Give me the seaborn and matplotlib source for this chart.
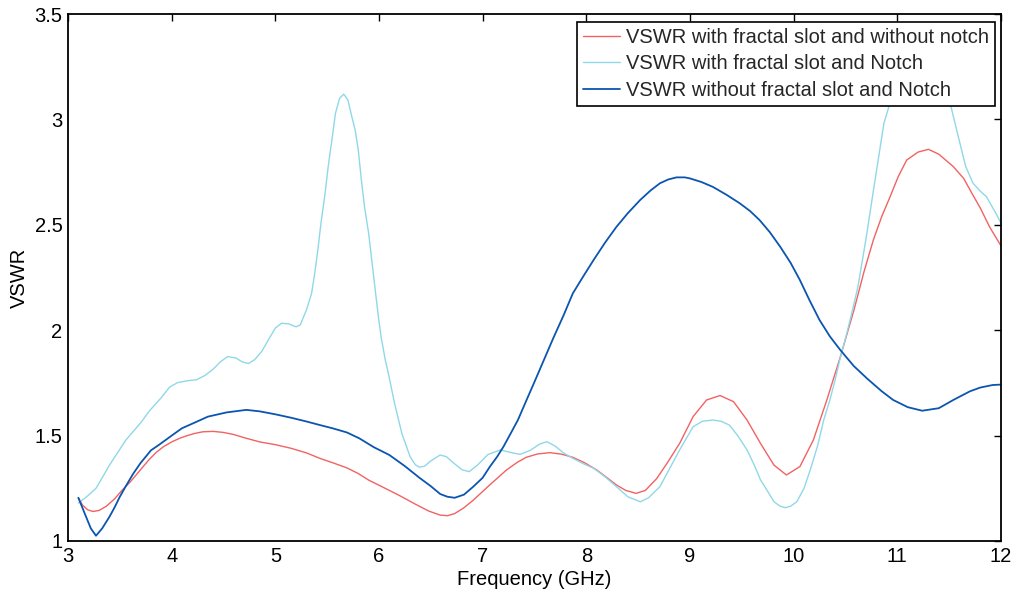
import numpy as np
import pandas as pd
import matplotlib
matplotlib.use("Agg")
import matplotlib.pyplot as plt
import seaborn as sns

# ---- data ----
red_x = [3.10, 3.14, 3.19, 3.24, 3.30, 3.37, 3.45, 3.52, 3.60, 3.66, 3.72, 3.78, 3.85, 3.92, 4.00,
         4.08, 4.15, 4.22, 4.30, 4.40, 4.50, 4.60, 4.70, 4.85, 5.00, 5.15, 5.30, 5.43, 5.56, 5.69,
         5.80, 5.90, 6.01, 6.10, 6.20, 6.35, 6.48, 6.59, 6.66, 6.73, 6.82, 6.91, 7.00, 7.10, 7.23,
         7.33, 7.42, 7.53, 7.65, 7.76, 7.87, 7.98, 8.10, 8.20, 8.29, 8.38, 8.48, 8.57, 8.68, 8.78,
         8.90, 9.03, 9.16, 9.29, 9.42, 9.55, 9.68, 9.81, 9.93, 10.06, 10.19, 10.32, 10.45, 10.58,
         10.68, 10.77, 10.85, 10.93, 11.01, 11.09, 11.20, 11.30, 11.40, 11.54, 11.64, 11.73, 11.80,
         11.89, 12.00]
red_y = [1.205, 1.17, 1.148, 1.14, 1.145, 1.165, 1.20, 1.24, 1.28, 1.315, 1.35, 1.385, 1.42, 1.447, 1.47,
         1.488, 1.50, 1.51, 1.518, 1.52, 1.515, 1.505, 1.49, 1.47, 1.457, 1.44, 1.418, 1.392, 1.37, 1.347,
         1.32, 1.289, 1.262, 1.24, 1.215, 1.175, 1.142, 1.123, 1.12, 1.13, 1.158, 1.194, 1.235, 1.28, 1.337,
         1.372, 1.397, 1.413, 1.419, 1.412, 1.397, 1.372, 1.337, 1.30, 1.266, 1.24, 1.226, 1.24, 1.297, 1.37,
         1.463, 1.59, 1.669, 1.69, 1.661, 1.574, 1.463, 1.36, 1.313, 1.353, 1.479, 1.669, 1.873, 2.093,
         2.28, 2.43, 2.54, 2.633, 2.73, 2.807, 2.845, 2.858, 2.835, 2.776, 2.72, 2.64, 2.58,
         2.49, 2.40]

cyan_x = [3.10, 3.18, 3.27, 3.33, 3.40, 3.48, 3.56, 3.63, 3.70, 3.79, 3.90, 3.98, 4.06, 4.15, 4.24,
          4.32, 4.40, 4.47, 4.54, 4.62, 4.68, 4.74, 4.80, 4.87, 4.94, 5.00, 5.06, 5.13, 5.20, 5.24,
          5.30, 5.35, 5.38, 5.41, 5.44, 5.48, 5.51, 5.55, 5.58, 5.62, 5.66, 5.70, 5.73, 5.77, 5.80,
          5.83, 5.86, 5.90, 5.93, 5.96, 5.99, 6.02, 6.06, 6.09, 6.15, 6.22, 6.30, 6.35, 6.39, 6.44,
          6.50, 6.59, 6.65, 6.72, 6.80, 6.87, 6.95, 7.05, 7.17, 7.27, 7.36, 7.46, 7.55, 7.62, 7.70,
          7.78, 7.87, 7.97, 8.07, 8.18, 8.29, 8.40, 8.52, 8.60, 8.71, 8.80, 8.90, 9.03, 9.12, 9.22,
          9.30, 9.38, 9.46, 9.55, 9.62, 9.68, 9.75, 9.81, 9.87, 9.92, 9.97, 10.03, 10.10, 10.16,
          10.23, 10.29, 10.35, 10.40, 10.45, 10.51, 10.56, 10.62, 10.70, 10.77, 10.87, 10.93, 11.02,
          11.12, 11.22, 11.32, 11.42, 11.51, 11.58, 11.66, 11.73, 11.80, 11.86, 11.95, 12.00]
cyan_y = [1.18, 1.21, 1.25, 1.30, 1.36, 1.42, 1.48, 1.52, 1.56, 1.62, 1.68, 1.73, 1.752, 1.76, 1.765,
          1.785, 1.815, 1.85, 1.875, 1.868, 1.85, 1.842, 1.86, 1.90, 1.96, 2.01, 2.033, 2.03, 2.016, 2.025,
          2.096, 2.175, 2.27, 2.38, 2.507, 2.65, 2.776, 2.918, 3.029, 3.10, 3.12, 3.092, 3.029, 2.95, 2.855,
          2.712, 2.586, 2.46, 2.333, 2.206, 2.08, 1.969, 1.86, 1.796, 1.653, 1.511, 1.40, 1.362, 1.35, 1.355,
          1.38, 1.408, 1.40, 1.37, 1.338, 1.329, 1.36, 1.41, 1.432, 1.42, 1.411, 1.43, 1.46, 1.471, 1.45,
          1.418, 1.392, 1.367, 1.345, 1.305, 1.258, 1.21, 1.186, 1.205, 1.258, 1.34, 1.432, 1.542, 1.568, 1.574,
          1.568, 1.55, 1.50, 1.432, 1.36, 1.29, 1.235, 1.186, 1.165, 1.158, 1.165, 1.186, 1.25, 1.337,
          1.45, 1.574, 1.67, 1.764, 1.87, 1.98, 2.08, 2.206, 2.44, 2.665, 2.98, 3.08, 3.22,
          3.33, 3.38, 3.36, 3.25, 3.076, 2.934, 2.776, 2.697, 2.66, 2.633, 2.555, 2.508]

blue_x = [3.10, 3.17, 3.22, 3.27, 3.33, 3.40, 3.45, 3.50, 3.56, 3.63, 3.70, 3.80, 3.88, 4.00, 4.10,
          4.21, 4.35, 4.53, 4.72, 4.85, 5.00, 5.15, 5.30, 5.43, 5.55, 5.69, 5.81, 5.95, 6.10, 6.25,
          6.39, 6.50, 6.59, 6.66, 6.73, 6.82, 6.91, 7.00, 7.07, 7.14, 7.20, 7.27, 7.34, 7.42, 7.50,
          7.59, 7.68, 7.78, 7.87, 7.97, 8.07, 8.18, 8.29, 8.40, 8.52, 8.62, 8.71, 8.79, 8.87, 8.95,
          9.00, 9.11, 9.22, 9.35, 9.48, 9.58, 9.67, 9.77, 9.87, 9.97, 10.06, 10.15, 10.25, 10.35,
          10.45, 10.58, 10.71, 10.85, 10.96, 11.10, 11.24, 11.40, 11.54, 11.70, 11.80, 11.92, 12.00]
blue_y = [1.205, 1.12, 1.06, 1.025, 1.06, 1.115, 1.16, 1.21, 1.262, 1.32, 1.37, 1.43, 1.457, 1.50, 1.535,
          1.559, 1.59, 1.61, 1.622, 1.615, 1.601, 1.585, 1.567, 1.55, 1.535, 1.515, 1.487, 1.445, 1.408, 1.355,
          1.30, 1.26, 1.223, 1.21, 1.205, 1.22, 1.258, 1.30, 1.353, 1.40, 1.447, 1.51, 1.574, 1.665, 1.755,
          1.858, 1.961, 2.07, 2.175, 2.255, 2.333, 2.415, 2.49, 2.555, 2.618, 2.663, 2.697, 2.715, 2.725, 2.725,
          2.72, 2.703, 2.68, 2.643, 2.602, 2.565, 2.523, 2.465, 2.396, 2.32, 2.238, 2.145, 2.048, 1.97,
          1.906, 1.83, 1.77, 1.71, 1.669, 1.635, 1.618, 1.63, 1.669, 1.71, 1.728, 1.74, 1.742]

labels = ["VSWR with fractal slot and without notch",
          "VSWR with fractal slot and Notch",
          "VSWR without fractal slot and Notch"]
colors = ["#F26262", "#8FD8E8", "#0B55B0"]
widths = [1.0, 1.0, 1.3]

x_ticks = [3, 4, 5, 6, 7, 8, 9, 10, 11, 12]
y_ticks = [1, 1.5, 2, 2.5, 3, 3.5]
y_tick_labels = ["1", "1.5", "2", "2.5", "3", "3.5"]

# ---- plotting ----
sns.set_theme(style="white")
plt.rcParams["font.family"] = ["Liberation Sans", "DejaVu Sans"]

fig = plt.figure(figsize=(10.16, 6.01), dpi=100)
ax = fig.add_axes([68 / 1016, 60 / 601, 933 / 1016, 527 / 601])

series = [(red_x, red_y), (cyan_x, cyan_y), (blue_x, blue_y)]
for (xs, ys), lab, col, lw in zip(series, labels, colors, widths):
    df = pd.DataFrame({"Frequency": xs, "VSWR": ys})
    sns.lineplot(data=df, x="Frequency", y="VSWR", ax=ax, color=col, linewidth=lw,
                 label=lab, sort=False, estimator=None)

ax.set_xlim(3, 12)
ax.set_ylim(1, 3.5)
ax.set_xticks(x_ticks)
ax.set_xticklabels([str(t) for t in x_ticks])
ax.set_yticks(y_ticks)
ax.set_yticklabels(y_tick_labels)
ax.tick_params(direction="in", length=5, width=1, top=True, right=True,
               labelsize=14.5, colors="black", pad=4)
for s in ax.spines.values():
    s.set_visible(True)
    s.set_color("black")
    s.set_linewidth(1.3)

ax.set_xlabel("Frequency (GHz)", fontsize=14.5, labelpad=3, color="black")
ax.set_ylabel("VSWR", fontsize=14.5, labelpad=4, color="black")

leg = ax.legend(loc="upper right", bbox_to_anchor=(0.9936, 0.9848), borderaxespad=0,
                fontsize=14.5, frameon=True, fancybox=False, framealpha=1, edgecolor="black",
                handlelength=1.85, handletextpad=0.3, labelspacing=0.36, borderpad=0.3)
leg.get_frame().set_linewidth(1.2)
leg.set_zorder(10)

fig.savefig("out.png", dpi=100, facecolor="white")
